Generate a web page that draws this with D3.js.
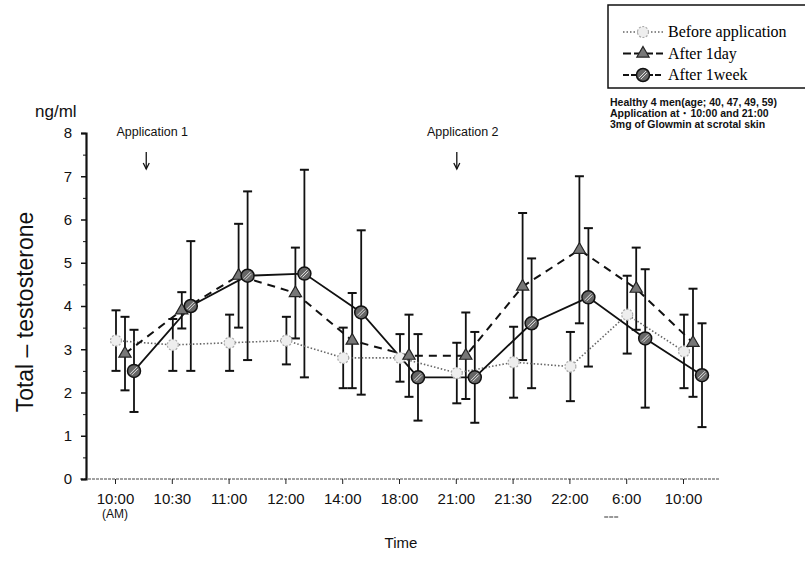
<!DOCTYPE html>
<html lang="en">
<head>
    <meta charset="UTF-8">
    <title>Total testosterone after Glowmin application</title>
    <script src="https://d3js.org/d3.v7.min.js"></script>
    <style>
        body { margin: 0; background: #fff; }
        svg { display: block; font-family: Arial, "Liberation Sans", sans-serif; }
        .legend-text { font-family: "Times New Roman", "Liberation Serif", serif; font-size: 16px; }
        .note { font-size: 10.5px; font-weight: bold; }
    </style>
</head>
<body>
<div id="chart"></div>
<script>
    // Time points on x axis
    const timeLabels = ["10:00", "10:30", "11:00", "12:00", "14:00", "18:00", "21:00", "21:30", "22:00", "6:00", "10:00"];
    const yTicks = [0, 1, 2, 3, 4, 5, 6, 7, 8];

    // Mean values (ng/ml) and error bar half-lengths
    const beforeApp = [3.2, 3.1, 3.15, 3.2, 2.8, 2.8, 2.45, 2.7, 2.6, 3.8, 2.95];
    const beforeErr = [0.7, 0.6, 0.65, 0.55, 0.7, 0.55, 0.7, 0.82, 0.8, 0.9, 0.85];
    const after1day = [2.9, 3.9, 4.7, 4.3, 3.2, 2.85, 2.85, 4.45, 5.3, 4.4, 3.15];
    const after1dayErr = [0.85, 0.42, 1.2, 1.05, 1.1, 0.95, 1.0, 1.7, 1.7, 0.95, 1.25];
    const after1week = [2.5, 4.0, 4.7, 4.75, 3.85, 2.35, 2.35, 3.6, 4.2, 3.25, 2.4];
    const after1weekErr = [0.95, 1.5, 1.95, 2.4, 1.9, 1.0, 1.05, 1.5, 1.6, 1.6, 1.2];

    const seriesNames = ["Before application", "After 1day", "After 1week"];
    const notes = ["Healthy 4 men(age; 40, 47, 49, 59)", "Application at\u30FB10:00 and 21:00", "3mg of Glowmin at scrotal skin"];
    const applications = [{ label: "Application 1", at: 0.55 }, { label: "Application 2", at: 6 }];

    const W = 805, H = 563;
    const plot = { left: 86, right: 720, top: 133, bottom: 479 };

    const svg = d3.select("#chart").append("svg")
        .attr("width", W).attr("height", H);
    svg.append("rect").attr("width", W).attr("height", H).attr("fill", "#fff");

    const idx = d3.range(timeLabels.length);
    const x = d3.scalePoint().domain(idx).range([115, 683]);
    const y = d3.scaleLinear().domain([0, 8]).range([plot.bottom, plot.top]);

    const series = [
        { name: seriesNames[0], vals: beforeApp, err: beforeErr, dx: 1, type: "before" },
        { name: seriesNames[1], vals: after1day, err: after1dayErr, dx: 10, type: "day" },
        { name: seriesNames[2], vals: after1week, err: after1weekErr, dx: 19, type: "week" }
    ];

    // x axis (thin, slightly dotted)
    svg.append("line")
        .attr("x1", plot.left - 6).attr("x2", plot.right)
        .attr("y1", plot.bottom).attr("y2", plot.bottom)
        .attr("stroke", "#444").attr("stroke-width", 1).attr("stroke-dasharray", "3,1");
    const xAxis = svg.append("g")
        .attr("transform", `translate(0,${plot.bottom})`)
        .call(d3.axisBottom(x).tickSize(5).tickPadding(9).tickFormat(i => timeLabels[i]));
    xAxis.select(".domain").remove();
    xAxis.selectAll("text").attr("font-size", 15).attr("fill", "#111").attr("font-family", "Arial, 'Liberation Sans', sans-serif");
    xAxis.selectAll("line").attr("stroke", "#222");
    svg.append("text")
        .attr("x", x(0)).attr("y", plot.bottom + 39)
        .attr("text-anchor", "middle").attr("font-size", 12).attr("fill", "#111")
        .text("(AM)");
    // underline below 6:00
    svg.append("line")
        .attr("x1", x(9) - 22).attr("x2", x(9) - 8)
        .attr("y1", plot.bottom + 38).attr("y2", plot.bottom + 38)
        .attr("stroke", "#333").attr("stroke-width", 1.2).attr("stroke-dasharray", "4,1");

    // y axis
    const yAxis = svg.append("g")
        .attr("transform", `translate(${plot.left},0)`)
        .call(d3.axisLeft(y).tickValues(yTicks).tickSize(5).tickPadding(9).tickFormat(d3.format("d")));
    yAxis.select(".domain").attr("stroke", "#111").attr("stroke-width", 2.2);
    yAxis.selectAll("text").attr("font-size", 15).attr("fill", "#111").attr("font-family", "Arial, 'Liberation Sans', sans-serif");
    yAxis.selectAll("line").attr("stroke", "#111").attr("stroke-width", 1.5);
    const minor = svg.append("g")
        .attr("transform", `translate(${plot.left},0)`)
        .call(d3.axisLeft(y).tickValues(d3.range(0.5, 8, 1)).tickSize(3).tickFormat(""));
    minor.select(".domain").remove();
    minor.selectAll("line").attr("stroke", "#111");

    // axis titles
    svg.append("text")
        .attr("transform", `translate(33,312) rotate(-90)`)
        .attr("text-anchor", "middle").attr("font-size", 23).attr("fill", "#111")
        .text("Total \u2013 testosterone");
    svg.append("text")
        .attr("x", 35).attr("y", 117)
        .attr("font-size", 17).attr("fill", "#111")
        .text("ng/ml");
    svg.append("text")
        .attr("x", (plot.left + plot.right) / 2 - 2).attr("y", 548)
        .attr("text-anchor", "middle").attr("font-size", 15).attr("fill", "#111")
        .text("Time");

    // application markers
    applications.forEach(a => {
        const ax = x.step() * a.at + x(0) + (a.at === 0.55 ? 0 : 1);
        svg.append("text")
            .attr("x", ax + 6).attr("y", 136)
            .attr("text-anchor", "middle").attr("font-size", 12.5).attr("fill", "#111")
            .text(a.label);
        svg.append("line")
            .attr("x1", ax).attr("x2", ax).attr("y1", 152).attr("y2", 169)
            .attr("stroke", "#111").attr("stroke-width", 1.3);
        svg.append("path")
            .attr("d", `M${ax - 3},${163} L${ax},${169} L${ax + 3},${163}`)
            .attr("fill", "none").attr("stroke", "#111").attr("stroke-width", 1.3);
    });

    // error bars
    series.forEach(s => {
        const g = svg.append("g");
        s.vals.forEach((v, i) => {
            const cx = x(i) + s.dx;
            const hi = y(v + s.err[i]), lo = y(v - s.err[i]);
            g.append("line").attr("x1", cx).attr("x2", cx).attr("y1", hi).attr("y2", lo)
                .attr("stroke", "#111").attr("stroke-width", 1.8);
            [hi, lo].forEach(yy => g.append("line")
                .attr("x1", cx - 4.5).attr("x2", cx + 4.5).attr("y1", yy).attr("y2", yy)
                .attr("stroke", "#111").attr("stroke-width", 2));
        });
    });

    // lines
    const lineStyle = {
        before: { stroke: "#666", width: 1.6, dash: "1.5,2" },
        day: { stroke: "#111", width: 2, dash: "8,6" },
        week: { stroke: "#111", width: 1.8, dash: null }
    };
    series.forEach(s => {
        const st = lineStyle[s.type];
        const line = d3.line().x((d, i) => x(i) + s.dx).y(d => y(d));
        svg.append("path")
            .datum(s.vals)
            .attr("d", line)
            .attr("fill", "none")
            .attr("stroke", st.stroke)
            .attr("stroke-width", st.width)
            .attr("stroke-dasharray", st.dash);
    });

    // markers
    function drawMarker(g, type, cx, cy) {
        if (type === "before") {
            g.append("circle").attr("cx", cx).attr("cy", cy).attr("r", 5.5)
                .attr("fill", "#eee").attr("stroke", "#aaa").attr("stroke-width", 1.2)
                .attr("stroke-dasharray", "2,1.5");
        } else if (type === "day") {
            g.append("path")
                .attr("d", d3.symbol().type(d3.symbolTriangle).size(65)())
                .attr("transform", `translate(${cx},${cy})`)
                .attr("fill", "#777").attr("stroke", "#222").attr("stroke-width", 1.2);
        } else {
            g.append("circle").attr("cx", cx).attr("cy", cy).attr("r", 6.5)
                .attr("fill", "#666").attr("stroke", "#111").attr("stroke-width", 1.5);
            g.append("path")
                .attr("d", `M${cx - 4},${cy + 3} L${cx + 3},${cy - 4} M${cx - 2},${cy + 4} L${cx + 4},${cy - 2}`)
                .attr("stroke", "#ddd").attr("stroke-width", 1);
        }
    }
    series.forEach(s => {
        const g = svg.append("g");
        s.vals.forEach((v, i) => drawMarker(g, s.type, x(i) + s.dx, y(v)));
    });

    // legend box
    const lg = svg.append("g");
    lg.append("rect")
        .attr("x", 608).attr("y", 5).attr("width", 210).attr("height", 83)
        .attr("fill", "#fff").attr("stroke", "#111").attr("stroke-width", 1.5);
    series.forEach((s, i) => {
        const yy = 32 + i * 21.5;
        const st = lineStyle[s.type];
        lg.append("line")
            .attr("x1", 623).attr("x2", 663).attr("y1", yy).attr("y2", yy)
            .attr("stroke", st.stroke).attr("stroke-width", st.width)
            .attr("stroke-dasharray", s.type === "day" ? "8,3" : (s.type === "week" ? "6,2" : st.dash));
        drawMarker(lg, s.type, 643, yy);
        lg.append("text")
            .attr("class", "legend-text")
            .attr("x", 668).attr("y", yy + 5)
            .text(s.name);
    });

    // notes under legend
    notes.forEach((t, i) => {
        svg.append("text")
            .attr("class", "note")
            .attr("x", 610).attr("y", 106 + i * 11)
            .attr("fill", "#111")
            .text(t);
    });
</script>
</body>
</html>
